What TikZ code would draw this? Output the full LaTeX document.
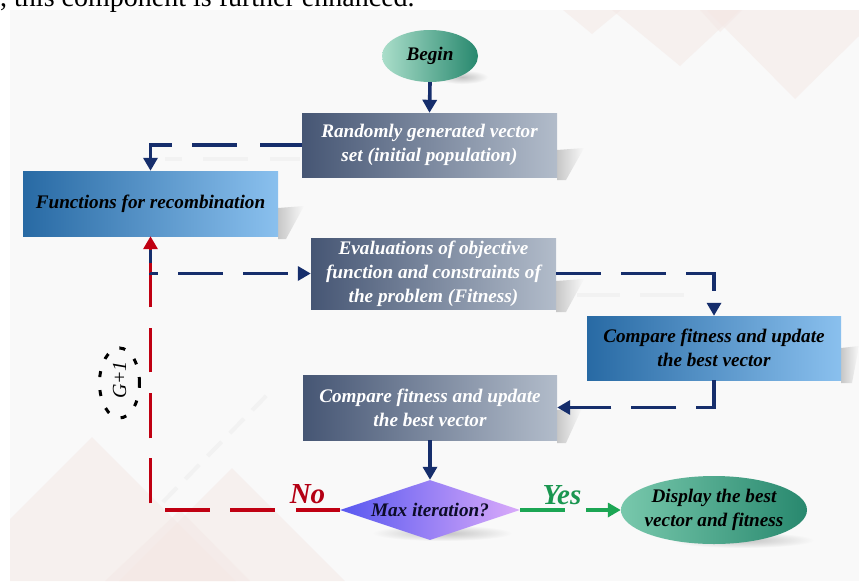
\documentclass[tikz,border=0pt]{standalone}
\usepackage{fontspec}
\setmainfont{Liberation Serif}
\usetikzlibrary{arrows.meta,shapes.geometric,calc}
\definecolor{bgc}{RGB}{249,249,249}
\definecolor{pinkc}{RGB}{244,232,229}
\definecolor{navy}{RGB}{22,46,108}
\definecolor{redc}{RGB}{192,0,18}
\definecolor{greenc}{RGB}{28,166,84}
\definecolor{noc}{RGB}{180,0,20}
\definecolor{yesc}{RGB}{26,150,80}
\definecolor{slateL}{RGB}{70,86,116}
\definecolor{slateR}{RGB}{178,188,202}
\definecolor{blueL}{RGB}{40,106,164}
\definecolor{blueR}{RGB}{138,192,238}
\definecolor{tealL}{RGB}{170,222,202}
\definecolor{tealR}{RGB}{40,136,110}
\definecolor{teal2L}{RGB}{120,200,172}
\definecolor{diaL}{RGB}{88,88,240}
\definecolor{diaR}{RGB}{218,170,250}
\begin{document}
\begin{tikzpicture}[x=1pt,y=-1pt,
  lbl/.style={font=\fontsize{19.2}{24}\selectfont\bfseries\itshape, align=center, inner sep=0pt},
  slatebox/.style={rectangle, inner sep=0pt, left color=slateL, right color=slateR, text=white},
  bluebox/.style={rectangle, inner sep=0pt, left color=blueL, right color=blueR, text=black},
  conn/.style={line width=3.6pt, line cap=butt},
  tip/.style={-{Triangle[width=14pt,length=13pt]}},
  ghost/.style={line width=4pt, black!5},
  boxshadow/.style={left color=black!22, right color=bgc},
  softshadow/.style={inner color=black!24, outer color=bgc},
  ]
\useasboundingbox (0,0) rectangle (859,581);
\clip (0,0) rectangle (859,581);
% background
\fill[white] (0,0) rectangle (859,581);
\fill[bgc] (10,10) rectangle (859,581);
\node[anchor=base west, inner sep=0pt, font=\fontsize{28}{30}\selectfont] (toptext) at (0,6) {, this component is further enhanced.};
% pink decorations
\begin{scope}[fill opacity=0.5]
\fill[pinkc] (563,10) -- (621,10) -- (592,34) -- cycle;
\fill[pinkc] (612,10) -- (740,10) -- (680,66) -- cycle;
\fill[pinkc] (700,10) -- (742,10) -- (720,32) -- cycle;
\fill[pinkc] (707,10) -- (859,10) -- (859,36) -- (795,99) -- cycle;
\fill[pinkc] (10,519) -- (92,437) -- (236,581) -- (10,581) -- cycle;
\fill[pinkc] (119,581) -- (232,468) -- (345,581) -- cycle;
\fill[pinkc] (105,581) -- (180,510) -- (250,581) -- cycle;
\end{scope}
% ghost shadows of connectors
\draw[ghost] (165,159) -- (182,159) (203,159) -- (248,159) (270,159) -- (300,159);
\draw[ghost] (577,295) -- (620,295) (640,295) -- (684,295);
\draw[ghost, dash pattern=on 20pt off 12pt] (163,502) -- (267,395);
% box shadows
\shade[boxshadow] (557,150) -- (584,148) -- (566,180) -- (557,180) -- cycle;
\shade[boxshadow] (278,208) -- (304,206) -- (286,239) -- (278,239) -- cycle;
\shade[boxshadow] (556,281) -- (584,279) -- (566,312) -- (556,312) -- cycle;
\shade[boxshadow] (841,348) -- (859,346) -- (852,383) -- (841,383) -- cycle;
\shade[boxshadow] (557,410) -- (582,408) -- (566,443) -- (557,443) -- cycle;
\shade[softshadow] (462,77) ellipse [x radius=26pt, y radius=7pt];
\shade[softshadow] (442,533) ellipse [x radius=70pt, y radius=8pt];
\shade[softshadow] (742,540) ellipse [x radius=72pt, y radius=8pt];
% nodes
\node[ellipse, inner sep=0pt, minimum width=96pt, minimum height=52pt, left color=tealL, right color=tealR] (begin) at (430,56) {};
\node[lbl] at (begin) {Begin};
\node[slatebox, lbl, minimum width=255pt, minimum height=64pt] (r1) at (429.5,145) {Randomly generated vector\\set (initial population)};
\node[bluebox, lbl, minimum width=255pt, minimum height=65pt] (r3) at (150.5,203.5) {Functions for recombination};
\node[slatebox, lbl, minimum width=245pt, minimum height=71pt] (r4) at (433.5,273.5) {Evaluations of objective\\function and constraints of\\the problem (Fitness)};
\node[bluebox, lbl, minimum width=254pt, minimum height=64pt] (r5) at (714,348) {Compare fitness and update\\the best vector};
\node[slatebox, lbl, minimum width=254pt, minimum height=65pt] (r6) at (430,407.5) {Compare fitness and update\\the best vector};
\node[diamond, inner sep=0pt, minimum width=180pt, minimum height=60pt, left color=diaL, right color=diaR] (dia) at (430,510) {};
\node[lbl, text={rgb,255:red,12;green,12;blue,40}] at (dia) {Max iteration?};
\node[ellipse, inner sep=0pt, minimum width=186pt, minimum height=68pt, left color=teal2L, right color=tealR] (disp) at (714,510) {};
\node[lbl] at (disp) {Display the best\\vector and fitness};
% G+1 marker
\draw[line width=3pt, dash pattern=on 6pt off 13pt] (119.5,383) ellipse [x radius=20pt, y radius=35pt];
\node[rotate=90, inner sep=0pt, font=\fontsize{20}{22}\selectfont\itshape] (gp) at (119.5,380) {G+1};
% connectors
\draw[conn, navy, tip] (begin.south) -- (r1.north);
\draw[conn, navy, tip, dash pattern=on 42pt off 23pt on 45pt off 20pt on 60pt off 10pt] (r1.west) -| (r3.north);
\draw[conn, redc, tip, dash pattern=on 44pt off 21pt on 45pt off 20pt on 45pt off 21pt on 45pt off 20pt on 45pt off 21pt on 44pt off 21pt on 100pt off 10pt] (dia.west) -| (r3.south);
\coordinate (nv) at (150.5,250);
\draw[conn, navy, tip, dash pattern=on 13pt off 10pt on 8pt off 20pt on 45pt off 20pt on 45pt off 60pt] (nv) |- (r4.west);
\draw[conn, navy, tip, dash pattern=on 45pt off 20pt] (r4.east) -| (r5.north);
\draw[conn, navy, tip, dash pattern=on 45pt off 20pt] (r5.south) |- (r6.east);
\draw[conn, navy, tip] (r6.south) -- (dia.north);
\draw[conn, greenc, tip, dash pattern=on 45pt off 21pt on 100pt off 10pt] (dia.east) -- (disp.west);
% labels
\node[inner sep=0pt, text=noc, font=\fontsize{29}{30}\selectfont\bfseries\itshape] (no) at (307.5,494.5) {No};
\node[inner sep=0pt, text=yesc, font=\fontsize{29}{30}\selectfont\bfseries\itshape] (yes) at (562,495) {Yes};
\end{tikzpicture}
\end{document}
